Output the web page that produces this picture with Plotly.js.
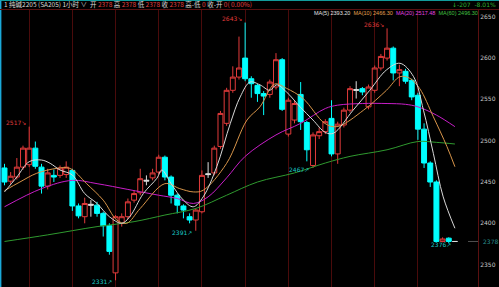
<!DOCTYPE html>
<html><head><meta charset="utf-8">
<script src="https://cdn.plot.ly/plotly-3.0.1.min.js"></script>
<style>html,body{margin:0;padding:0;background:#000;}#c{width:499px;height:287px;}</style>
</head><body><div id="c"></div>
<script>
// ---- candle data (1-hour bars, index 0..73) ----
const openP  = [2467,2451,2456,2468,2471,2491,2468,2445,2458,2458,2459,2464,2421,2408,2423,2422,2412,2397,2340,2400,
                2408,2428,2437,2451,2455,2462,2480,2456,2434,2421,2408,2404,2414,2460,2461,2493,2521,2561,2577,2600,
                2575,2567,2557,2556,2565,2598,2508,2525,2556,2522,2470,2506,2511,2527,2484,2519,2537,2562,2563,2541,
                2561,2588,2600,2612,2582,2584,2573,2555,2514,2473,2450,2378,2382,2378];
const highP  = [2472,2462,2479,2494,2517,2499,2472,2466,2465,2470,2475,2466,2424,2431,2428,2426,2414,2400,2410,2412,
                2430,2440,2466,2458,2466,2483,2482,2458,2436,2423,2412,2418,2464,2474,2494,2536,2564,2590,2626,2643,
                2578,2569,2560,2574,2606,2600,2552,2549,2571,2524,2510,2516,2526,2549,2523,2540,2566,2572,2565,2568,
                2591,2605,2636,2614,2592,2587,2575,2558,2521,2475,2452,2383,2383,2378];
const lowP   = [2446,2447,2453,2465,2468,2466,2436,2441,2450,2455,2455,2415,2406,2400,2408,2408,2384,2362,2331,2396,
                2405,2425,2434,2446,2452,2459,2452,2424,2412,2406,2400,2391,2412,2455,2458,2490,2518,2558,2574,2572,
                2552,2547,2531,2552,2562,2536,2505,2521,2513,2475,2467,2502,2508,2481,2472,2516,2534,2551,2555,2538,
                2558,2585,2597,2573,2566,2569,2549,2501,2467,2444,2377,2377,2376,2378];
const closeP = [2450,2457,2468,2491,2491,2469,2445,2461,2456,2467,2468,2421,2409,2424,2422,2412,2397,2366,2408,2408,
                2426,2436,2454,2452,2461,2480,2456,2434,2422,2416,2404,2416,2458,2459,2491,2533,2561,2577,2588,2575,
                2569,2557,2554,2571,2598,2538,2549,2545,2523,2489,2507,2511,2523,2484,2520,2537,2563,2561,2559,2565,
                2588,2602,2612,2582,2586,2572,2553,2514,2473,2450,2378,2381,2378,2378];
const dojiIdx = [14,23,33,57,73];

// ---- moving averages (bar position, value) ----
const ma5X  = [0,2,4,6,7.4,9,11,13,15,17,19,20.3,22.5,24.7,25.5,27,29,30.6,32.2,34.4,36.6,38.2,39.8,41.4,43,44.1,45.7,47.9,50,52,53.3,56.5,59.2,61.9,64.1,66.3,67.9,69.5,71.1,73];
const ma5V  = [2438,2456,2474.6,2476.6,2472.6,2464.5,2458.5,2436,2424,2408,2400,2408,2436,2454.5,2464.5,2448,2428,2420,2432,2468.5,2521,2553,2571,2567.6,2561,2567.6,2559,2541,2525,2510,2509,2537,2561,2585.6,2593.7,2577.5,2537,2484.7,2432,2394];
const ma10X = [0,2.5,5.2,8.5,10.6,13.3,16,18.2,19.8,22,26,28.4,30.6,32.2,36,39.3,41.4,43.8,45.7,48.4,51.9,53.9,58.2,61.9,64.1,65.7,67.3,69.5,71.7,73];
const ma10V = [2439.5,2450,2460.5,2466.5,2466.5,2448,2428,2404,2400,2418,2448,2442,2438,2440,2472.6,2525,2541,2568.6,2563.4,2551,2521,2517,2537,2561,2577.5,2575.5,2563,2529,2493,2468.5];
const ma20X = [0,6,11,15,20,25,28,30.6,33,36,39,44,48,52,54,58,62,65,67,70,73];
const ma20V = [2420,2442,2452,2448,2441,2434,2430,2424,2432,2455,2481,2507,2521,2539,2543,2545,2545,2544,2541,2531,2517];
const ma60X = [0,7,15,21,26,31,36,41,47,52,56,62,67,70,73];
const ma60V = [2378,2386,2396,2402,2410,2418,2434,2450,2461,2473,2481,2489,2499,2498,2496];

// ---- high / low markers ----
const markIdx  = [4,39,62,18,31,50,73];
const markVal  = [2517,2643,2636,2331,2391,2467,2376];
const markHigh = [true,true,true,false,false,false,false];

// ---- axis ticks ----
const yTicks = [2350,2400,2450,2500,2550,2600,2650];
const xGrid  = [4,11,18,25,32,39,46,53,60,67];
const lastPrice = 2378;

const idx = openP.map((_, i) => i);
const isDoji = i => dojiIdx.includes(i);
const mainI = idx.filter(i => !isDoji(i));
const pick = (arr, list) => list.map(i => arr[i]);

const RED = '#e23b3b', CYAN = '#00ffff';
const traces = [
  {type:'candlestick', x: mainI, open: pick(openP,mainI), high: pick(highP,mainI), low: pick(lowP,mainI), close: pick(closeP,mainI),
   increasing:{line:{color:RED,width:1}, fillcolor:'#000000'},
   decreasing:{line:{color:CYAN,width:1}, fillcolor:CYAN},
   whiskerwidth:0, hoverinfo:'skip', showlegend:false},
  {type:'candlestick', x: dojiIdx, open: pick(openP,dojiIdx), high: pick(highP,dojiIdx), low: pick(lowP,dojiIdx), close: pick(closeP,dojiIdx),
   increasing:{line:{color:'#dcdcdc',width:1}, fillcolor:'#dcdcdc'},
   decreasing:{line:{color:'#dcdcdc',width:1}, fillcolor:'#dcdcdc'},
   whiskerwidth:0, hoverinfo:'skip', showlegend:false},
  {type:'scatter', mode:'lines', x: ma60X, y: ma60V, line:{color:'#2f9a2f', width:1, shape:'spline', smoothing:1}, hoverinfo:'skip', showlegend:false},
  {type:'scatter', mode:'lines', x: ma20X, y: ma20V, line:{color:'#c81ec8', width:1, shape:'spline', smoothing:1}, hoverinfo:'skip', showlegend:false},
  {type:'scatter', mode:'lines', x: ma10X, y: ma10V, line:{color:'#d8954a', width:1, shape:'spline', smoothing:1}, hoverinfo:'skip', showlegend:false},
  {type:'scatter', mode:'lines', x: ma5X,  y: ma5V,  line:{color:'#d8d8d8', width:1, shape:'spline', smoothing:1}, hoverinfo:'skip', showlegend:false}
];

const W = 499, H = 287, L = 0, R = 21, T = 10, B = 0;
const PW = W - L - R, PH = H - T - B;
const px = x => (x - L) / PW;          // pixel -> paper x
const py = y => (H - B - y) / PH;      // pixel -> paper y

const annotations = [];
markIdx.forEach((i, k) => {
  const hi = markHigh[k];
  annotations.push({x: i - 0.25, y: markVal[k], xref:'x', yref:'y', xanchor:'right', yanchor:'middle',
    yshift: hi ? 4 : -1.5,
    text: markVal[k] + (hi ? '↘' : '↗'), showarrow:false,
    font:{family:'DejaVu Sans', size:6, color: hi ? RED : '#19c8c8'}});
});
const W_ = 'color:#d8d8d8', R_ = 'color:#e04040';
annotations.push({x: px(2), y: py(4.5), xref:'paper', yref:'paper', xanchor:'left', yanchor:'middle', showarrow:false,
  text: `<span style="${W_}">1 纯碱2205 (SA205) 1小时 ∨  开 </span><span style="${R_}">2378</span><span style="${W_}"> 高 </span><span style="${R_}">2378</span><span style="${W_}"> 低 </span><span style="${R_}">2378</span><span style="${W_}"> 收 </span><span style="${R_}">2378</span><span style="${W_}"> 高-低 </span><span style="${R_}">0</span><span style="${W_}"> 收-开 </span><span style="${R_}">0( 0.00%)</span>`,
  font:{family:'Noto Sans CJK SC', size:6.5, color:'#d8d8d8'}});
annotations.push({x: px(498), y: py(4.5), xref:'paper', yref:'paper', xanchor:'right', yanchor:'middle', showarrow:false,
  text: '↓-207  -8.01%', font:{family:'DejaVu Sans', size:6, color:'#2fb02f'}});
annotations.push({x: px(480), y: py(12.5), xref:'paper', yref:'paper', xanchor:'right', yanchor:'middle', showarrow:false,
  text: '<span style="color:#e0e0e0">MA(5) 2393.20</span>  <span style="color:#e0a050">MA(10) 2466.30</span>  <span style="color:#e040e0">MA(20) 2517.48</span>  <span style="color:#40c040">MA(60) 2496.30</span>',
  font:{family:'Liberation Sans', size:5.5}});
annotations.push({x: px(481), y: lastPrice, xref:'paper', yref:'y', xanchor:'left', yanchor:'middle', showarrow:false,
  text: String(lastPrice), font:{family:'DejaVu Sans', size:6, color:'#2a8e8e'}});

const shapes = [
  {type:'line', xref:'paper', yref:'paper', x0:0, x1:px(499), y0:py(0.5), y1:py(0.5), line:{color:'#129a9a', width:1}},
  {type:'line', xref:'paper', yref:'paper', x0:px(0.7), x1:px(0.7), y0:0, y1:py(0.5), line:{color:'#1aa8d8', width:1.4}},
  {type:'line', xref:'paper', yref:'paper', x0:0, x1:px(499), y0:py(9.5), y1:py(9.5), line:{color:'#5a1010', width:1}},
  {type:'line', xref:'paper', yref:'y', x0:px(468), x1:1, y0:lastPrice, y1:lastPrice, line:{color:'#505050', width:1}}
];

const layout = {
  width: W, height: H, margin:{l:L, r:R, t:T, b:B, pad:0},
  paper_bgcolor:'#000000', plot_bgcolor:'#000000',
  showlegend:false, boxgap:0.2, boxgroupgap:0,
  xaxis:{range:[-0.729, 76.74], tickvals: xGrid, showticklabels:false, ticks:'', showgrid:true, gridcolor:'#4a0b0b', gridwidth:1,
         zeroline:false, showline:false, rangeslider:{visible:false}, fixedrange:true},
  yaxis:{range:[2322.9, 2658.2], side:'right', tickvals: yTicks, ticktext: yTicks.map(String), ticks:'', showgrid:false,
         zeroline:false, showline:true, linecolor:'#5a1010', linewidth:1,
         tickfont:{family:'DejaVu Sans', size:6, color:'#c8c8c8'}, fixedrange:true},
  annotations, shapes
};
Plotly.newPlot('c', traces, layout, {displayModeBar:false, staticPlot:true});
</script></body></html>
